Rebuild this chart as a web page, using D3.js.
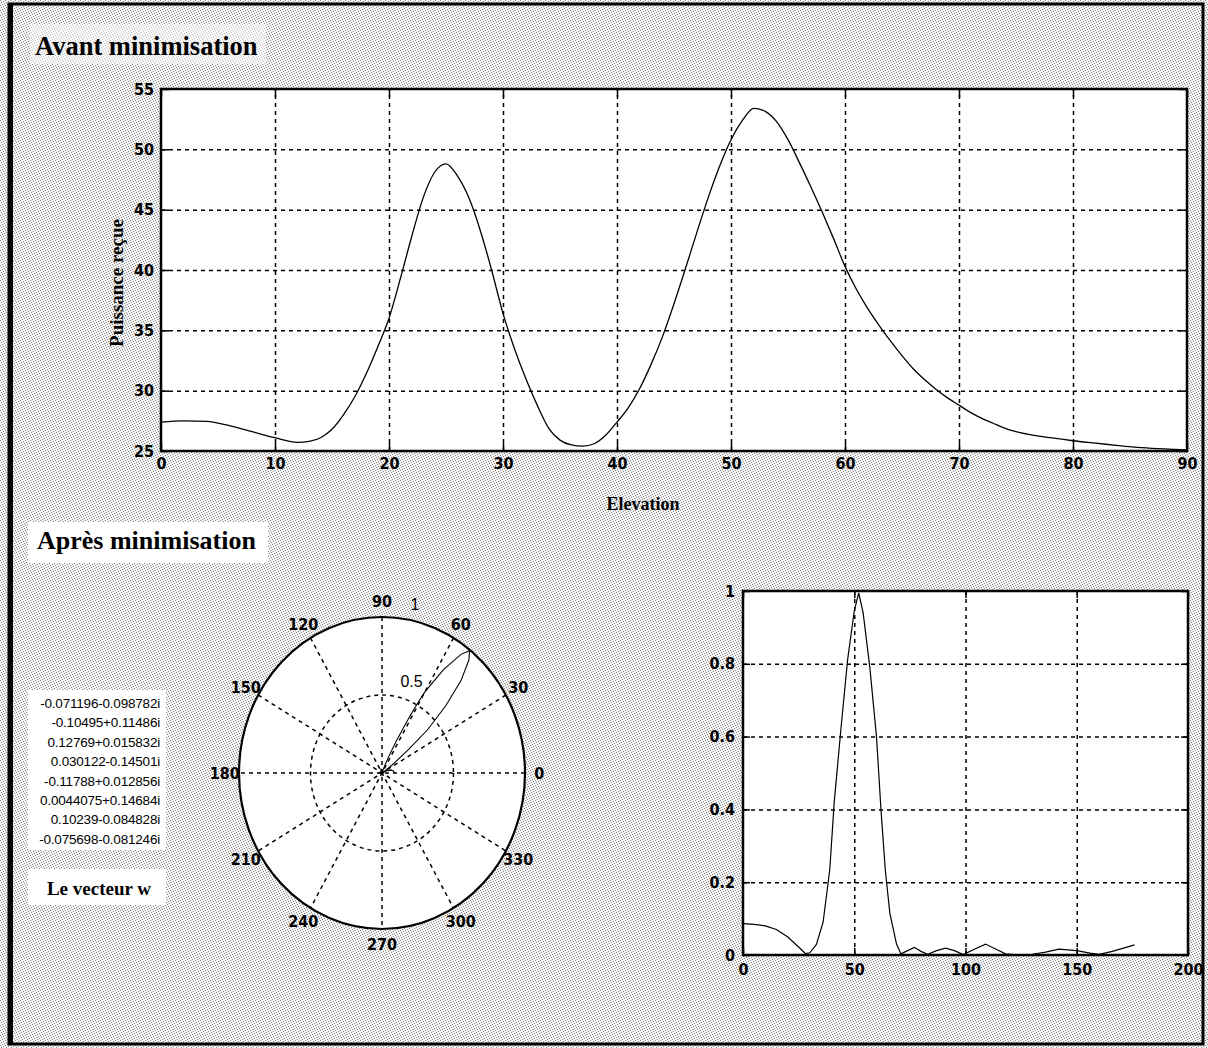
<!DOCTYPE html>
<html>
<head>
<meta charset="utf-8">
<script src="https://cdn.jsdelivr.net/npm/d3@7"></script>
<style>
  body { margin: 0; background: #fff; }
  .tick text { font-family: "Liberation Sans Narrow", "DejaVu Sans Condensed", sans-serif; font-weight: bold; font-size: 16px; fill: #000; }
  .tick line { stroke: #000; stroke-width: 1.5; }
  .grid .tick line { stroke-dasharray: 4,4; stroke-width: 1.5; }
</style>
</head>
<body>
<script>
const m = { width: 1208, height: 1048 }

// before minimisation: received power against elevation
const elevation = [0, 2, 4, 6, 8, 10, 12, 13, 14, 15, 16, 17, 18, 19, 20, 21, 22, 23, 24, 25,
  26, 27, 28, 29, 30, 31, 32, 33, 34, 35, 36, 37, 38, 39, 40, 41, 42, 43, 44, 45,
  46, 47, 48, 49, 50, 51, 52, 53, 54, 55, 56, 57, 58, 59, 60, 61, 62, 63, 64, 65,
  66, 67, 68, 69, 70, 71, 72, 73, 74, 75, 76, 78, 80, 82, 84, 86, 88, 90]
const power = [27.4, 27.5, 27.45, 27.1, 26.6, 26.1, 25.72, 25.8, 26.1, 26.8, 28.0, 29.5, 31.4, 33.6, 36.0, 39.3, 42.8, 46.0, 48.1, 48.8,
  47.8, 46.0, 43.3, 40.0, 36.4, 33.5, 31.0, 28.8, 26.9, 25.9, 25.5, 25.4, 25.6, 26.3, 27.4, 28.6, 30.2, 32.2, 34.5, 37.2,
  40.1, 43.1, 46.0, 48.6, 50.8, 52.4, 53.4, 53.15, 52.3, 50.8, 48.9, 46.9, 44.8, 42.6, 40.3, 38.4, 36.8, 35.4, 34.1, 32.9,
  31.8, 30.9, 30.1, 29.4, 28.8, 28.2, 27.7, 27.3, 26.9, 26.6, 26.4, 26.1, 25.85, 25.65, 25.45, 25.28, 25.17, 25.1]
const topXTicks = [0, 10, 20, 30, 40, 50, 60, 70, 80, 90]
const topYTicks = [25, 30, 35, 40, 45, 50, 55]

// after minimisation: normalised pattern against angle
const angle = [0, 5, 10, 15, 20, 25, 28, 30, 33, 36, 39, 41, 44, 47, 50, 52, 54, 57, 60, 61,
  62, 64, 66, 69, 71, 74, 77, 80, 83, 87, 91, 95, 99, 104, 109, 114, 118, 122, 130, 136,
  142, 150, 156, 160, 166, 171, 176]
const gain = [0.086, 0.084, 0.08, 0.07, 0.05, 0.022, 0.004, 0.006, 0.029, 0.09, 0.235, 0.42, 0.62, 0.81, 0.945, 0.995, 0.94, 0.79, 0.6, 0.5,
  0.4, 0.23, 0.115, 0.03, 0.003, 0.012, 0.021, 0.01, 0.002, 0.012, 0.019, 0.012, 0.001, 0.016, 0.03, 0.015, 0.003, 0.001, 0.002, 0.008,
  0.016, 0.012, 0.005, 0.002, 0.01, 0.019, 0.028]
const botXTicks = [0, 50, 100, 150, 200]
const botYTicks = [0, 0.2, 0.4, 0.6, 0.8, 1]

// polar grid
const polarRings = [0.5, 1]
const polarSpokes = [0, 30, 60, 90, 120, 150, 180, 210, 240, 270, 300, 330]

// weight vector w
const weights = ['-0.071196-0.098782i', '-0.10495+0.11486i', '0.12769+0.015832i', '0.030122-0.14501i',
  '-0.11788+0.012856i', '0.0044075+0.14684i', '0.10239-0.084828i', '-0.075698-0.081246i']

const svg = d3.select('body').append('svg')
  .attr('width', m.width)
  .attr('height', m.height)

// halftone look of the scanned page
const defs = svg.append('defs')
const pat = defs.append('pattern')
  .attr('id', 'halftone')
  .attr('width', 5).attr('height', 5)
  .attr('patternUnits', 'userSpaceOnUse')
pat.append('rect').attr('width', 5).attr('height', 5).attr('fill', '#f3f3f3')
;[[0, 0], [3, 1], [1, 2], [4, 3], [2, 4]].forEach(p => {
  pat.append('rect').attr('x', p[0]).attr('y', p[1]).attr('width', 1).attr('height', 1).attr('fill', '#8a8a8a')
})

svg.append('rect').attr('width', m.width).attr('height', m.height).attr('fill', 'url(#halftone)')

// frame
svg.append('rect')
  .attr('x', 9).attr('y', 4)
  .attr('width', 1194).attr('height', 1040)
  .attr('fill', 'none').attr('stroke', '#000').attr('stroke-width', 3)
svg.append('rect').attr('x', 8).attr('y', 4).attr('width', 5).attr('height', 1040).attr('fill', '#000')

const serif = '"Liberation Serif", "DejaVu Serif", serif'

// titles
svg.append('rect').attr('x', 30).attr('y', 24).attr('width', 236).attr('height', 40).attr('fill', '#fff').attr('opacity', 0.5)
svg.append('text')
  .attr('x', 35).attr('y', 55)
  .attr('font-family', serif).attr('font-weight', 'bold').attr('font-size', 26.5)
  .text('Avant minimisation')

svg.append('rect').attr('x', 28).attr('y', 522).attr('width', 240).attr('height', 41).attr('fill', '#fff')
svg.append('text')
  .attr('x', 37).attr('y', 549)
  .attr('font-family', serif).attr('font-weight', 'bold').attr('font-size', 26)
  .text('Après minimisation')

// ---------- top chart ----------
const x1 = d3.scaleLinear().domain([0, 90]).range([161, 1187])
const y1 = d3.scaleLinear().domain([25, 55]).range([451, 89])

svg.append('rect')
  .attr('x', x1(0)).attr('y', y1(55))
  .attr('width', x1(90) - x1(0)).attr('height', y1(25) - y1(55))
  .attr('fill', '#fff')

svg.append('g').attr('class', 'grid')
  .attr('transform', `translate(0,${y1(25)})`)
  .call(d3.axisBottom(x1).tickValues(topXTicks.slice(1, -1)).tickSize(-(y1(25) - y1(55))).tickFormat(''))
  .call(g => g.select('.domain').remove())
svg.append('g').attr('class', 'grid')
  .attr('transform', `translate(${x1(0)},0)`)
  .call(d3.axisLeft(y1).tickValues(topYTicks.slice(1, -1)).tickSize(-(x1(90) - x1(0))).tickFormat(''))
  .call(g => g.select('.domain').remove())

svg.append('g')
  .attr('transform', `translate(0,${y1(25)})`)
  .call(d3.axisBottom(x1).tickValues(topXTicks).tickSize(-8).tickPadding(7))
  .call(g => g.select('.domain').remove())
svg.append('g')
  .attr('transform', `translate(0,${y1(55)})`)
  .call(d3.axisTop(x1).tickValues(topXTicks).tickSize(-8).tickFormat(''))
  .call(g => g.select('.domain').remove())
svg.append('g')
  .attr('transform', `translate(${x1(0)},0)`)
  .call(d3.axisLeft(y1).tickValues(topYTicks).tickSize(-8).tickPadding(7))
  .call(g => g.select('.domain').remove())
svg.append('g')
  .attr('transform', `translate(${x1(90)},0)`)
  .call(d3.axisRight(y1).tickValues(topYTicks).tickSize(-8).tickFormat(''))
  .call(g => g.select('.domain').remove())

svg.append('rect')
  .attr('x', x1(0)).attr('y', y1(55))
  .attr('width', x1(90) - x1(0)).attr('height', y1(25) - y1(55))
  .attr('fill', 'none').attr('stroke', '#000').attr('stroke-width', 2.5)

const line1 = d3.line()
  .x((d, i) => x1(elevation[i]))
  .y(d => y1(d))
  .curve(d3.curveMonotoneX)

svg.append('path')
  .attr('d', line1(power))
  .attr('fill', 'none').attr('stroke', '#000').attr('stroke-width', 1.3)

svg.append('text')
  .attr('x', 643).attr('y', 510)
  .attr('text-anchor', 'middle')
  .attr('font-family', serif).attr('font-weight', 'bold').attr('font-size', 18)
  .text('Elevation')

svg.append('text')
  .attr('transform', 'translate(123,283) rotate(-90)')
  .attr('text-anchor', 'middle')
  .attr('font-family', serif).attr('font-weight', 'bold').attr('font-size', 19)
  .text('Puissance reçue')

// ---------- bottom right chart ----------
const x2 = d3.scaleLinear().domain([0, 200]).range([743, 1188])
const y2 = d3.scaleLinear().domain([0, 1]).range([955, 591])
const fmt2 = d => (d === 0 || d === 1) ? String(d) : d3.format('.1f')(d)

svg.append('rect')
  .attr('x', x2(0)).attr('y', y2(1))
  .attr('width', x2(200) - x2(0)).attr('height', y2(0) - y2(1))
  .attr('fill', '#fff')

svg.append('g').attr('class', 'grid')
  .attr('transform', `translate(0,${y2(0)})`)
  .call(d3.axisBottom(x2).tickValues(botXTicks.slice(1, -1)).tickSize(-(y2(0) - y2(1))).tickFormat(''))
  .call(g => g.select('.domain').remove())
svg.append('g').attr('class', 'grid')
  .attr('transform', `translate(${x2(0)},0)`)
  .call(d3.axisLeft(y2).tickValues(botYTicks.slice(1, -1)).tickSize(-(x2(200) - x2(0))).tickFormat(''))
  .call(g => g.select('.domain').remove())

svg.append('g')
  .attr('transform', `translate(0,${y2(0)})`)
  .call(d3.axisBottom(x2).tickValues(botXTicks).tickSize(-7).tickPadding(9))
  .call(g => g.select('.domain').remove())
svg.append('g')
  .attr('transform', `translate(0,${y2(1)})`)
  .call(d3.axisTop(x2).tickValues(botXTicks).tickSize(-7).tickFormat(''))
  .call(g => g.select('.domain').remove())
svg.append('g')
  .attr('transform', `translate(${x2(0)},0)`)
  .call(d3.axisLeft(y2).tickValues(botYTicks).tickSize(-7).tickPadding(8).tickFormat(fmt2))
  .call(g => g.select('.domain').remove())
svg.append('g')
  .attr('transform', `translate(${x2(200)},0)`)
  .call(d3.axisRight(y2).tickValues(botYTicks).tickSize(-7).tickFormat(''))
  .call(g => g.select('.domain').remove())

svg.append('rect')
  .attr('x', x2(0)).attr('y', y2(1))
  .attr('width', x2(200) - x2(0)).attr('height', y2(0) - y2(1))
  .attr('fill', 'none').attr('stroke', '#000').attr('stroke-width', 2.5)

const line2 = d3.line()
  .x((d, i) => x2(angle[i]))
  .y(d => y2(d))

svg.append('path')
  .attr('d', line2(gain))
  .attr('fill', 'none').attr('stroke', '#000').attr('stroke-width', 1.2)

// ---------- polar plot ----------
const pc = { x: 382, y: 773 }
const rx = d3.scaleLinear().domain([0, 1]).range([0, 143])
const ry = d3.scaleLinear().domain([0, 1]).range([0, 156])
const rad = d => d * Math.PI / 180
const px = (r, a) => pc.x + rx(r) * Math.cos(rad(a))
const py = (r, a) => pc.y - ry(r) * Math.sin(rad(a))

const polar = svg.append('g')

polar.append('ellipse')
  .attr('cx', pc.x).attr('cy', pc.y)
  .attr('rx', rx(1)).attr('ry', ry(1))
  .attr('fill', '#fff')

polar.selectAll('.spoke')
  .data(polarSpokes.slice(0, 6))
  .enter()
  .append('line')
    .attr('x1', d => px(1, d)).attr('y1', d => py(1, d))
    .attr('x2', d => px(1, d + 180)).attr('y2', d => py(1, d + 180))
    .attr('stroke', '#000').attr('stroke-width', 1.5).attr('stroke-dasharray', '4,4')

polar.selectAll('.ring')
  .data(polarRings)
  .enter()
  .append('ellipse')
    .attr('cx', pc.x).attr('cy', pc.y)
    .attr('rx', d => rx(d)).attr('ry', d => ry(d))
    .attr('fill', 'none').attr('stroke', '#000')
    .attr('stroke-width', d => d === 1 ? 2.2 : 1.5)
    .attr('stroke-dasharray', d => d === 1 ? null : '4,4')

polar.selectAll('.alabel')
  .data(polarSpokes)
  .enter()
  .append('text')
    .attr('x', d => px(1.1, d)).attr('y', d => py(1.1, d))
    .attr('text-anchor', 'middle').attr('dy', '0.36em')
    .attr('font-family', '"Liberation Sans Narrow", "DejaVu Sans Condensed", sans-serif')
    .attr('font-weight', 'bold').attr('font-size', 16)
    .text(d => d)

polar.selectAll('.rlabel')
  .data(polarRings)
  .enter()
  .append('text')
    .attr('x', d => px(d + 0.025, 82) + 8).attr('y', d => py(d + 0.025, 82) - 5)
    .attr('font-family', '"Liberation Sans", Arial, sans-serif')
    .attr('font-size', 16)
    .text(d => d)

const line3 = d3.line()
  .x((d, i) => px(d, angle[i]))
  .y((d, i) => py(d, angle[i]))

polar.append('path')
  .attr('d', line3(gain))
  .attr('fill', 'none').attr('stroke', '#000').attr('stroke-width', 1.1)

// ---------- weight vector ----------
svg.append('rect').attr('x', 28).attr('y', 690).attr('width', 138).attr('height', 160).attr('fill', '#fff')
svg.selectAll('.w')
  .data(weights)
  .enter()
  .append('text')
    .attr('x', 160)
    .attr('y', (d, i) => 708 + i * 19.4)
    .attr('text-anchor', 'end')
    .attr('font-family', '"Liberation Sans", Arial, sans-serif')
    .attr('font-size', 13.5)
    .attr('letter-spacing', -0.2)
    .text(d => d)

svg.append('rect').attr('x', 28).attr('y', 869).attr('width', 138).attr('height', 36).attr('fill', '#fff')
svg.append('text')
  .attr('x', 99).attr('y', 895)
  .attr('text-anchor', 'middle')
  .attr('font-family', serif).attr('font-weight', 'bold').attr('font-size', 19)
  .text('Le vecteur w')
</script>
</body>
</html>
